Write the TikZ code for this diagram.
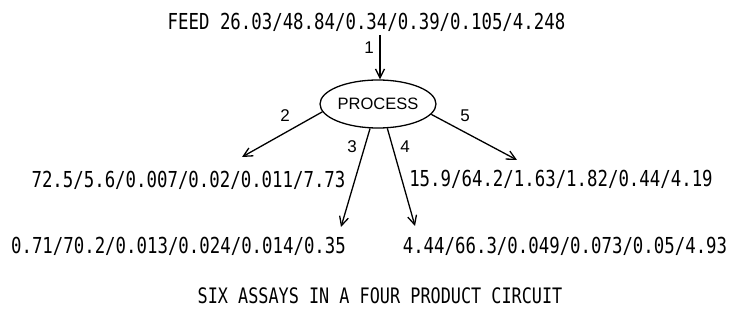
\documentclass[tikz,border=0pt]{standalone}
\usepackage{fontspec}
\setmainfont{Liberation Sans}
\newfontfamily\narrowmono[FakeStretch=0.79]{DejaVu Sans Mono}
\usetikzlibrary{shapes.geometric,arrows.meta}
\begin{document}
\begin{tikzpicture}[x=1pt,y=-1pt,
  assay/.style={inner sep=0pt,font=\narrowmono\fontsize{22}{24}\selectfont},
  numlbl/.style={inner sep=0pt,font=\fontsize{17}{19}\selectfont},
  arr/.style={line width=1.3pt,-{Straight Barb[length=9pt,width=9pt,line width=1.3pt]}},
  proc/.style={ellipse,draw,line width=1.3pt,inner sep=0pt,minimum width=116pt,minimum height=48pt,font=\fontsize{16.5}{19}\selectfont}]
\useasboundingbox[fill=white] (0,0) rectangle (734,323);
\node[assay] (feed) at (366.5,22) {FEED 26.03/48.84/0.34/0.39/0.105/4.248};
\node[proc] (p) at (378,104) {PROCESS};
\node[assay] (s2) at (188.5,180) {72.5/5.6/0.007/0.02/0.011/7.73};
\node[assay] (s5) at (561,179) {15.9/64.2/1.63/1.82/0.44/4.19};
\node[assay] (s3) at (178.5,246) {0.71/70.2/0.013/0.024/0.014/0.35};
\node[assay] (s4) at (565,246) {4.44/66.3/0.049/0.073/0.05/4.93};
\node[assay,font=\narrowmono\fontsize{21.3}{24}\selectfont] (cap) at (380,296) {SIX ASSAYS IN A FOUR PRODUCT CIRCUIT};
\coordinate (f0) at (380,35);
\coordinate (t2) at (242,157);
\coordinate (t3) at (341,227);
\coordinate (t4) at (415,226);
\coordinate (t5) at (517,160);
\draw[arr] (f0) -- (f0 |- p.north);
\draw[arr] (p.188) -- (t2);
\draw[arr] (p.252) -- (t3);
\draw[arr] (p.291) -- (t4);
\draw[arr] (p.349) -- (t5);
\node[numlbl] (l1) at (369,48) {1};
\node[numlbl] (l2) at (285,116) {2};
\node[numlbl] (l3) at (352,147) {3};
\node[numlbl] (l4) at (405,147) {4};
\node[numlbl] (l5) at (465,116) {5};
\end{tikzpicture}
\end{document}
